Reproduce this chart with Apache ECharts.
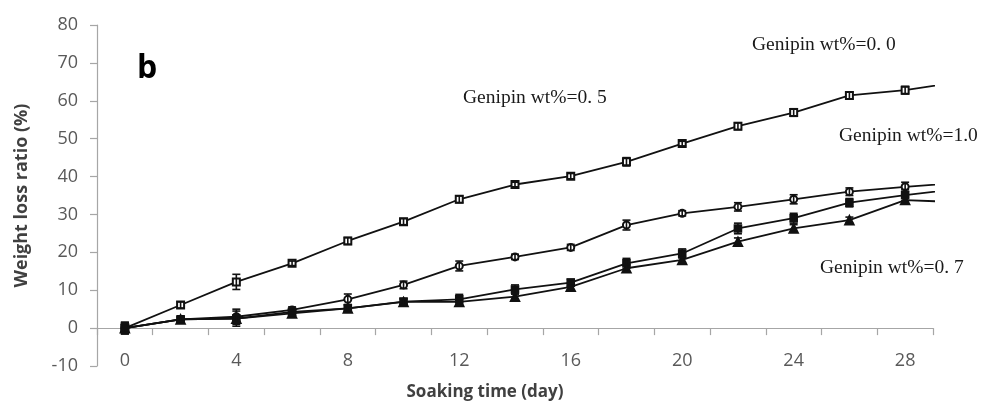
<!DOCTYPE html>
<html>
<head>
<meta charset="utf-8">
<script src="https://cdn.jsdelivr.net/npm/echarts@6/dist/echarts.min.js"></script>
<style>
  html, body { margin: 0; padding: 0; background: #fff; }
  #chart { width: 981px; height: 403px; }
</style>
</head>
<body>
<div id="chart"></div>
<script>
// Soaking days at which weight loss was measured (last point lies past the axis end)
const days = [0, 2, 4, 6, 8, 10, 12, 14, 16, 18, 20, 22, 24, 26, 28, 30];
// Category tick labels along the time axis
const dayLabels = ['0', '2', '4', '6', '8', '10', '12', '14', '16', '18', '20', '22', '24', '26', '28'];
// Y axis range
const yTicks = { min: -10, max: 80, step: 10 };

// Weight loss ratio (%) for each genipin content
const lossG00 = [0, 6.1, 12.2, 17.1, 23.0, 28.1, 34.0, 37.9, 40.1, 43.9, 48.7, 53.3, 56.9, 61.4, 62.8, 65.0];
const lossG10 = [0, 2.3, 3.0, 4.8, 7.6, 11.4, 16.4, 18.8, 21.3, 27.2, 30.3, 32.0, 34.0, 36.0, 37.3, 38.4];
const lossG05 = [0, 2.3, 2.5, 4.3, 5.2, 7.0, 7.6, 10.2, 12.0, 17.1, 19.7, 26.3, 29.0, 33.1, 35.1, 36.8];
const lossG07 = [0, 2.3, 2.5, 3.9, 5.2, 6.9, 6.9, 8.3, 10.9, 15.8, 18.0, 22.8, 26.3, 28.5, 33.8, 33.2];

// Standard deviations (±)
const errG00 = [1.5, 0.8, 2.0, 0.6, 0.9, 0.8, 0.9, 0.6, 0.7, 1.1, 0.6, 0.9, 1.0, 0.9, 1.0, 0];
const errG10 = [1.5, 0.7, 2.0, 0.8, 1.4, 1.0, 1.3, 0.7, 0.8, 1.3, 0.7, 1.1, 1.2, 1.0, 1.2, 0];
const errG05 = [1.5, 0.7, 2.0, 0.8, 1.0, 0.8, 1.3, 1.2, 0.9, 1.3, 1.2, 1.4, 1.3, 1.1, 1.5, 0];
const errG07 = [1.2, 0.6, 0.9, 0.6, 0.7, 0.8, 1.0, 0.7, 0.8, 0.9, 0.7, 1.0, 1.0, 0.8, 0.8, 0];

const chart = echarts.init(document.getElementById('chart'), null, { renderer: 'canvas' });

const axisGrey = '#a6a6a6';
const labelGrey = '#595959';
const sansFont = '"Open Sans", "Noto Sans", sans-serif';
const serifFont = '"Liberation Serif", "DejaVu Serif", serif';

function pairs(vals) {
  return days.map((d, i) => [d, vals[i]]);
}
function triples(vals, errs) {
  return days.map((d, i) => [d, vals[i], errs[i]]);
}

function lineSeries(name, vals, symbol, size) {
  return {
    name: name,
    type: 'line',
    xAxisIndex: 1,
    yAxisIndex: 0,
    data: pairs(vals),
    symbol: symbol,
    symbolSize: size,
    showAllSymbol: true,
    clip: true,
    lineStyle: { color: '#111', width: 1.8 },
    itemStyle: { color: '#111', borderColor: '#111', borderWidth: 1.6 },
    emphasis: { disabled: true },
    z: 3
  };
}

function errorSeries(name, vals, errs) {
  return {
    name: name + ' error',
    type: 'custom',
    xAxisIndex: 1,
    yAxisIndex: 0,
    clip: true,
    data: triples(vals, errs),
    renderItem: function (params, api) {
      const x = api.value(0), y = api.value(1), e = api.value(2);
      if (!e) return null;
      const top = api.coord([x, y + e]);
      const bot = api.coord([x, y - e]);
      const half = 4;
      const style = { stroke: '#111', lineWidth: 1.6 };
      return {
        type: 'group',
        children: [
          { type: 'line', shape: { x1: top[0], y1: top[1], x2: bot[0], y2: bot[1] }, style: style },
          { type: 'line', shape: { x1: top[0] - half, y1: top[1], x2: top[0] + half, y2: top[1] }, style: style },
          { type: 'line', shape: { x1: bot[0] - half, y1: bot[1], x2: bot[0] + half, y2: bot[1] }, style: style }
        ]
      };
    },
    z: 4
  };
}

const option = {
  backgroundColor: '#fff',
  animation: false,
  grid: { left: 97, right: 48, top: 25, bottom: 37, containLabel: false },
  xAxis: [
    {
      // visible time axis: ticks between measurement days, labels every 4 days
      type: 'category',
      data: dayLabels,
      boundaryGap: true,
      axisLine: { show: true, onZero: true, lineStyle: { color: axisGrey, width: 1.2 } },
      axisTick: { show: true, inside: false, length: 7, interval: 0, lineStyle: { color: axisGrey, width: 1.2 } },
      axisLabel: { interval: 1, margin: -14, color: labelGrey, fontSize: 18, fontFamily: sansFont },
      splitLine: { show: false }
    },
    {
      // numeric axis used for positioning the measured points
      type: 'value',
      min: -1,
      max: 29,
      show: false,
      splitLine: { show: false }
    }
  ],
  yAxis: [
    {
      type: 'value',
      min: yTicks.min,
      max: yTicks.max,
      interval: yTicks.step,
      name: 'Weight loss ratio (%)',
      nameLocation: 'middle',
      nameRotate: 90,
      nameGap: 66,
      nameTextStyle: { color: '#404040', fontSize: 18, fontWeight: 'bold', fontFamily: sansFont },
      axisLine: { show: true, onZero: false, lineStyle: { color: axisGrey, width: 1.2 } },
      axisTick: { show: true, inside: false, length: 7, lineStyle: { color: axisGrey, width: 1.2 } },
      axisLabel: { margin: 19, color: labelGrey, fontSize: 18, fontFamily: sansFont },
      splitLine: { show: false }
    }
  ],
  series: [
    lineSeries('Genipin wt%=0. 0', lossG00, 'emptyRect', 7),
    lineSeries('Genipin wt%=1.0', lossG10, 'emptyCircle', 7),
    lineSeries('Genipin wt%=0. 5', lossG05, 'rect', 7),
    lineSeries('Genipin wt%=0. 7', lossG07, 'triangle', 9),
    errorSeries('Genipin wt%=0. 0', lossG00, errG00),
    errorSeries('Genipin wt%=1.0', lossG10, errG10),
    errorSeries('Genipin wt%=0. 5', lossG05, errG05),
    errorSeries('Genipin wt%=0. 7', lossG07, errG07)
  ],
  graphic: [
    { type: 'text', left: 137, top: 53,
      style: { text: 'b', fill: '#000', font: 'bold 32px ' + sansFont } },
    { type: 'text', x: 485, y: 392,
      style: { text: 'Soaking time (day)', fill: '#404040', font: 'bold 17px ' + sansFont, align: 'center', verticalAlign: 'middle' } },
    { type: 'text', x: 752, y: 45,
      style: { text: 'Genipin wt%=0. 0', fill: '#1a1a1a', font: '19.5px ' + serifFont, align: 'left', verticalAlign: 'middle' } },
    { type: 'text', x: 463, y: 98,
      style: { text: 'Genipin wt%=0. 5', fill: '#1a1a1a', font: '19.5px ' + serifFont, align: 'left', verticalAlign: 'middle' } },
    { type: 'text', x: 839, y: 136,
      style: { text: 'Genipin wt%=1.0', fill: '#1a1a1a', font: '19.5px ' + serifFont, align: 'left', verticalAlign: 'middle' } },
    { type: 'text', x: 820, y: 268,
      style: { text: 'Genipin wt%=0. 7', fill: '#1a1a1a', font: '19.5px ' + serifFont, align: 'left', verticalAlign: 'middle' } }
  ]
};

chart.setOption(option);
</script>
</body>
</html>
